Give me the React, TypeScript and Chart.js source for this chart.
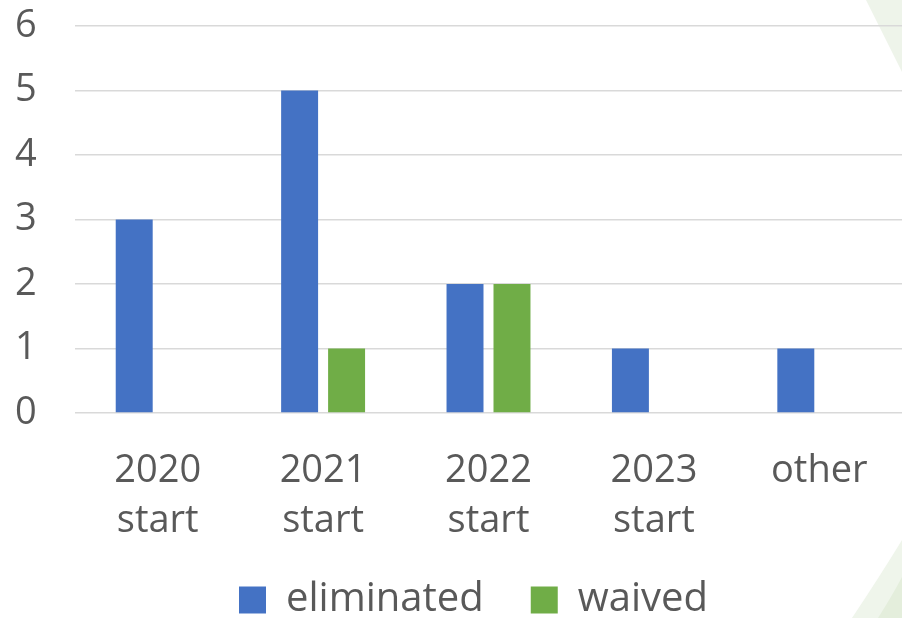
import React, { useEffect, useRef } from "react";
import { Chart, registerables } from "chart.js";

Chart.register(...registerables);

const categories: (string | string[])[] = [
  ["2020", "start"],
  ["2021", "start"],
  ["2022", "start"],
  ["2023", "start"],
  "other",
];
const eliminated: (number | null)[] = [3, 5, 2, 1, 1];
const waived: (number | null)[] = [null, 1, 2, null, null];
const yMin = 0;
const yMax = 6;
const yStep = 1;

const BLUE = "#4472C4";
const GREEN = "#70AD47";
const TEXT = "#595959";
const GRID = "#D9D9D9";
const FONT = "'Open Sans', 'Noto Sans', sans-serif";

// Soft green slide decoration painted behind the chart
const backdrop = {
  id: "backdrop",
  beforeDraw(chart: Chart) {
    const { ctx, width, height } = chart;
    ctx.save();
    ctx.fillStyle = "#ffffff";
    ctx.fillRect(0, 0, width, height);

    ctx.fillStyle = "#EEF4EA";
    ctx.beginPath();
    ctx.moveTo(width - 36, 0);
    ctx.lineTo(width, 0);
    ctx.lineTo(width, 72);
    ctx.closePath();
    ctx.fill();

    ctx.fillStyle = "#EFF5EB";
    ctx.beginPath();
    ctx.moveTo(width - 50, height);
    ctx.quadraticCurveTo(width - 22, height - 42, width, height - 78);
    ctx.lineTo(width, height);
    ctx.closePath();
    ctx.fill();

    ctx.fillStyle = "#E4EEDC";
    ctx.beginPath();
    ctx.moveTo(width - 24, height);
    ctx.quadraticCurveTo(width - 10, height - 22, width, height - 41);
    ctx.lineTo(width, height);
    ctx.closePath();
    ctx.fill();
    ctx.restore();
  },
};

// Fixed legend band; its top is tucked up under the two-line category labels
const LEGEND_H = 75;
const LEGEND_LIFT = 10;
const legendBand = {
  id: "legendBand",
  beforeLayout(chart: any) {
    const lg = chart.legend;
    if (lg && !lg.__banded) {
      const fit = lg.fit.bind(lg);
      lg.fit = () => {
        fit();
        lg.height = LEGEND_H;
      };
      lg.__banded = true;
    }
  },
  afterLayout(chart: any) {
    const lg = chart.legend;
    if (lg) {
      lg.top -= LEGEND_LIFT;
    }
  },
};

export default function App() {
  const canvasRef = useRef<HTMLCanvasElement | null>(null);

  useEffect(() => {
    if (!canvasRef.current) return;
    const chart = new Chart(canvasRef.current, {
      type: "bar",
      data: {
        labels: categories,
        datasets: [
          {
            label: "eliminated",
            data: eliminated,
            backgroundColor: BLUE,
            borderWidth: 0,
            categoryPercentage: 0.568,
            barPercentage: 0.787,
          },
          {
            label: "waived",
            data: waived,
            backgroundColor: GREEN,
            borderWidth: 0,
            categoryPercentage: 0.568,
            barPercentage: 0.787,
          },
        ],
      },
      options: {
        animation: false,
        responsive: false,
        maintainAspectRatio: false,
        layout: { autoPadding: false, padding: { left: 39, right: -6, top: 26, bottom: 0 } },
        plugins: {
          legend: {
            position: "bottom",
            labels: {
              color: TEXT,
              boxWidth: 27,
              boxHeight: 27,
              padding: 47,
              font: { family: FONT, size: 40 },
            },
          },
          tooltip: { enabled: false },
        },
        scales: {
          x: {
            grid: { display: false },
            border: { display: false },
            ticks: {
              color: TEXT,
              padding: 25,
              maxRotation: 0,
              autoSkip: false,
              font: { family: FONT, size: 38, lineHeight: 50 / 38 },
            },
            afterFit(scale: any) {
              scale.height = 130;
              scale.paddingLeft = 0;
              scale.paddingRight = 0;
            },
          },
          y: {
            min: yMin,
            max: yMax,
            grid: { color: GRID, lineWidth: 1.5, drawTicks: false },
            border: { display: false },
            ticks: {
              stepSize: yStep,
              autoSkip: false,
              mirror: true,
              color: TEXT,
              padding: -60,
              font: { family: FONT, size: 38 },
            },
            afterFit(scale: any) {
              scale.width = 36;
              scale.paddingTop = 0;
              scale.paddingBottom = 0;
            },
          },
        },
      } as any,
      plugins: [backdrop, legendBand],
    });
    return () => chart.destroy();
  }, []);

  return (
    <div style={{ position: "absolute", left: 0, top: 0, width: 902, height: 618 }}>
      <canvas ref={canvasRef} width={902} height={618} />
    </div>
  );
}
